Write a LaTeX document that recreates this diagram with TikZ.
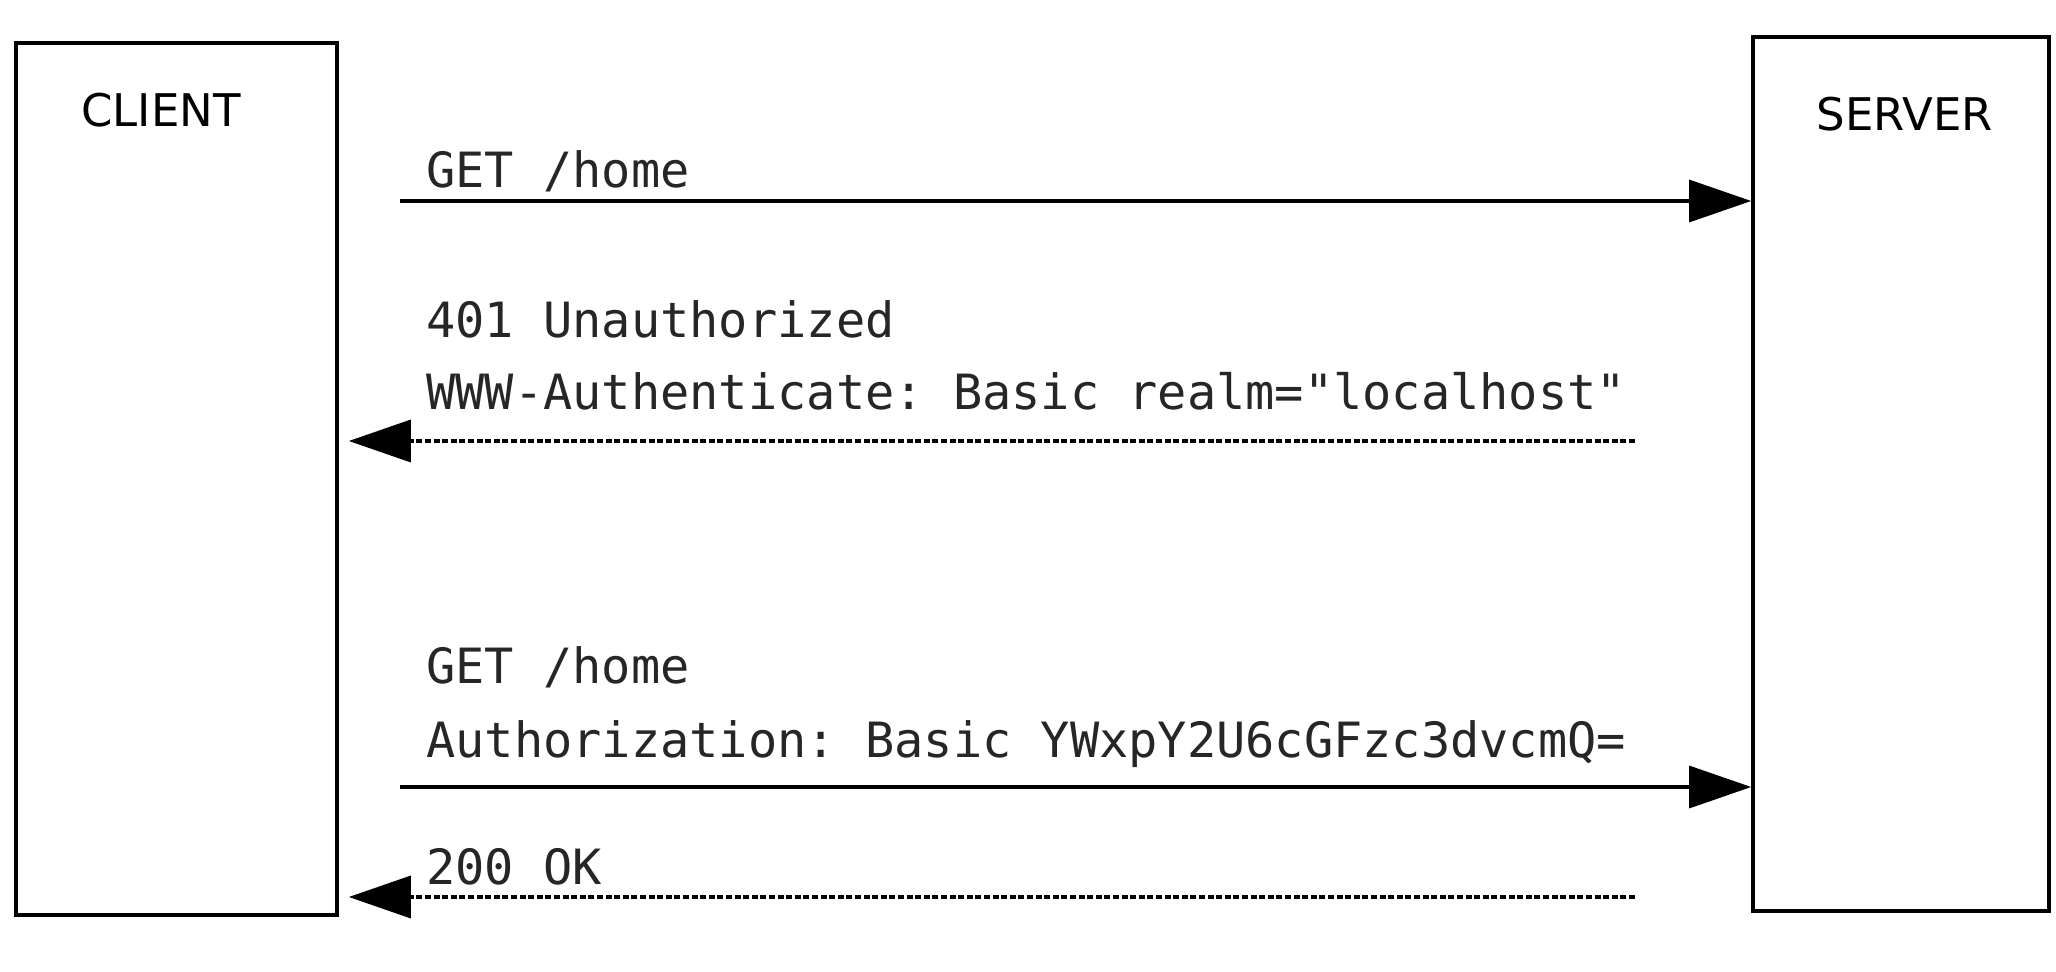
\documentclass[tikz,border=0pt]{standalone}
\usepackage{fontspec}
\setmainfont{DejaVu Sans}
\setmonofont{DejaVu Sans Mono}
\usetikzlibrary{arrows.meta,positioning}

\begin{document}
\begin{tikzpicture}[x=0.5pt,y=-0.5pt,>={Triangle[length=31pt,width=21pt]},
  party/.style={draw,line width=1.8pt,inner sep=0pt,minimum width=160.5pt,minimum height=436pt},
  who/.style={font=\fontsize{22.5}{27}\selectfont,anchor=base,inner sep=0pt},
  msg/.style={font=\ttfamily\fontsize{24.3}{29}\selectfont,anchor=base west,inner sep=0pt,text=black!85},
  req/.style={->,line width=1.6pt},
  resp/.style={->,line width=1.7pt,dash pattern=on 3pt off 1.3pt,shorten >=5pt}]
  \useasboundingbox (0,0) rectangle (2056,972);

  \node[party] (client) at (176.5,479) {};
  \node[party,minimum width=148pt,minimum height=437pt] (server) at (1901,474) {};
  \node[who] (cname) at (161,127) {CLIENT};
  \node[who] (sname) at (1905,131) {SERVER};

  % first request
  \coordinate (get1) at (400,201);
  \node[msg] (get1txt) at (426,188) {GET /home};
  \draw[req] (get1) -- (server.west |- get1);

  % challenge
  \coordinate (deny) at (1635,441);
  \node[msg] (denytxt) at (426,338) {401 Unauthorized};
  \node[msg] (realmtxt) at (426,410) {WWW-Authenticate: Basic realm="localhost"};
  \draw[resp] (deny) -- (client.east |- deny);

  % second request
  \coordinate (get2) at (400,787);
  \node[msg] (get2txt) at (426,683) {GET /home};
  \node[msg] (authtxt) at (426,757) {Authorization: Basic YWxpY2U6cGFzc3dvcmQ=};
  \draw[req] (get2) -- (server.west |- get2);

  % success
  \coordinate (ok) at (1635,897);
  \node[msg] (oktxt) at (426,884) {200 OK};
  \draw[resp] (ok) -- (client.east |- ok);
\end{tikzpicture}
\end{document}
